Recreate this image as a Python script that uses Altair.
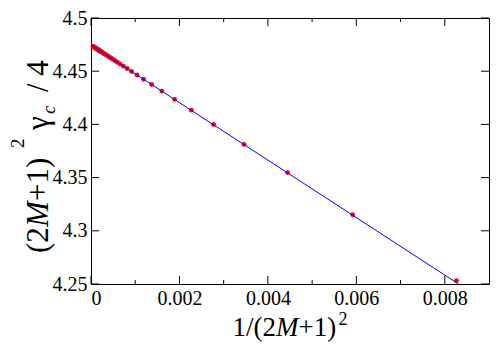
import altair as alt
import pandas as pd

# x = 1/(2M+1)^2 for M = 5..40, 42..50 (step 2), 55..75 (step 5)
inv_size_sq = [
    0.0082645, 0.0059172, 0.0044444, 0.0034602, 0.0027701, 0.0022676,
    0.0018904, 0.0016000, 0.0013717, 0.0011891, 0.0010406, 0.0009183,
    0.0008163, 0.0007305, 0.0006575, 0.0005949, 0.0005408, 0.0004938,
    0.0004527, 0.0004165, 0.0003845, 0.0003560, 0.0003306, 0.0003078,
    0.0002873, 0.0002687, 0.0002520, 0.0002367, 0.0002228, 0.0002100,
    0.0001984, 0.0001877, 0.0001778, 0.0001687, 0.0001602, 0.0001524,
    0.0001384, 0.0001262, 0.0001156, 0.0001063, 0.0000980,
    0.0000812, 0.0000683, 0.0000583, 0.0000503, 0.0000439,
]
gamma_scaled = [
    4.2532, 4.3152, 4.3547, 4.3812, 4.3999, 4.4134,
    4.4235, 4.4313, 4.4375, 4.4424, 4.4464, 4.4497,
    4.4525, 4.4548, 4.4568, 4.4584, 4.4599, 4.4612,
    4.4623, 4.4633, 4.4641, 4.4649, 4.4656, 4.4662,
    4.4667, 4.4672, 4.4677, 4.4681, 4.4685, 4.4688,
    4.4691, 4.4694, 4.4697, 4.4699, 4.4702, 4.4704,
    4.4708, 4.4711, 4.4714, 4.4716, 4.4718,
    4.4723, 4.4727, 4.4729, 4.4731, 4.4733,
]
fit_x = [0.0, 0.00831]
fit_y = [4.4745, 4.25]

x_major = [0, 0.002, 0.004, 0.006, 0.008]
x_minor = [0.001, 0.003, 0.005, 0.007]
y_major = [4.25, 4.3, 4.35, 4.4, 4.45, 4.5]

W, H = 398, 266
FONT = "Liberation Serif"

pts = pd.DataFrame({"x": inv_size_sq, "y": gamma_scaled})
fit = pd.DataFrame({"x": fit_x, "y": fit_y})

xs = alt.Scale(domain=[0, 0.009], nice=False, zero=False)
ys = alt.Scale(domain=[4.25, 4.5], nice=False, zero=False)
common = dict(format="~g", title=None, labelFont=FONT, labelFontSize=20,
              labelColor="black", domain=False, ticks=False, tickSize=0, grid=False)
xaxis = alt.Axis(values=x_major, labelPadding=4, **common)
yaxis = alt.Axis(values=y_major, labelPadding=4, **common)

def X():
    return alt.X("x:Q", scale=xs, axis=xaxis)

def Y():
    return alt.Y("y:Q", scale=ys, axis=yaxis)

points = alt.Chart(pts).mark_circle(color="#ff0000", size=24, opacity=1).encode(x=X(), y=Y())
line = alt.Chart(fit).mark_line(color="#0000ff", strokeWidth=1).encode(x=X(), y=Y())

def xticks(vals, length):
    d = pd.DataFrame({"x": vals})
    bottom = alt.Chart(d).mark_rule(color="black", strokeWidth=1).encode(
        x=X(), y=alt.value(H), y2=alt.value(H - length))
    top = alt.Chart(d).mark_rule(color="black", strokeWidth=1).encode(
        x=X(), y=alt.value(0), y2=alt.value(length))
    return [bottom, top]

def yticks(vals, length):
    d = pd.DataFrame({"y": vals})
    left = alt.Chart(d).mark_rule(color="black", strokeWidth=1).encode(
        y=Y(), x=alt.value(0), x2=alt.value(length))
    right = alt.Chart(d).mark_rule(color="black", strokeWidth=1).encode(
        y=Y(), x=alt.value(W), x2=alt.value(W - length))
    return [left, right]

def txt(s, x, y, size, italic=False, angle=0):
    kw = dict(text=s, font=FONT, fontSize=size, align="left", baseline="alphabetic", color="black")
    if italic:
        kw["fontStyle"] = "italic"
    if angle:
        kw["angle"] = angle
    return alt.Chart(alt.Data(values=[{}])).mark_text(**kw).encode(x=alt.value(x), y=alt.value(y))

titles = [
    # y title, rotated
    txt("(2", -43, 235, 31, angle=270),
    txt("M", -43, 209, 31, italic=True, angle=270),
    txt("+1)", -43, 183, 31, angle=270),
    txt("2", -67, 130, 19, angle=270),
    txt("γ", -43, 112, 31, angle=270),
    txt("c", -36, 96, 19, italic=True, angle=270),
    txt("/ 4", -43, 74, 31, angle=270),
    # x title
    txt("1/(2", 141.5, 318, 27),
    txt("M", 185, 318, 27, italic=True),
    txt("+1)", 207.5, 318, 27),
    txt("2", 247.5, 307, 18),
]

layers = [points, line] + xticks(x_major, 8) + xticks(x_minor, 4) + yticks(y_major, 8) + titles

chart = alt.layer(*layers).properties(
    width=W, height=H,
    autosize=alt.AutoSizeParams(type="none"),
    padding={"left": 83, "top": 10, "right": 1, "bottom": 59},
).configure_view(
    stroke="black", strokeWidth=1
)

chart.save("out.html", embed_options={"renderer": "svg", "actions": False})
